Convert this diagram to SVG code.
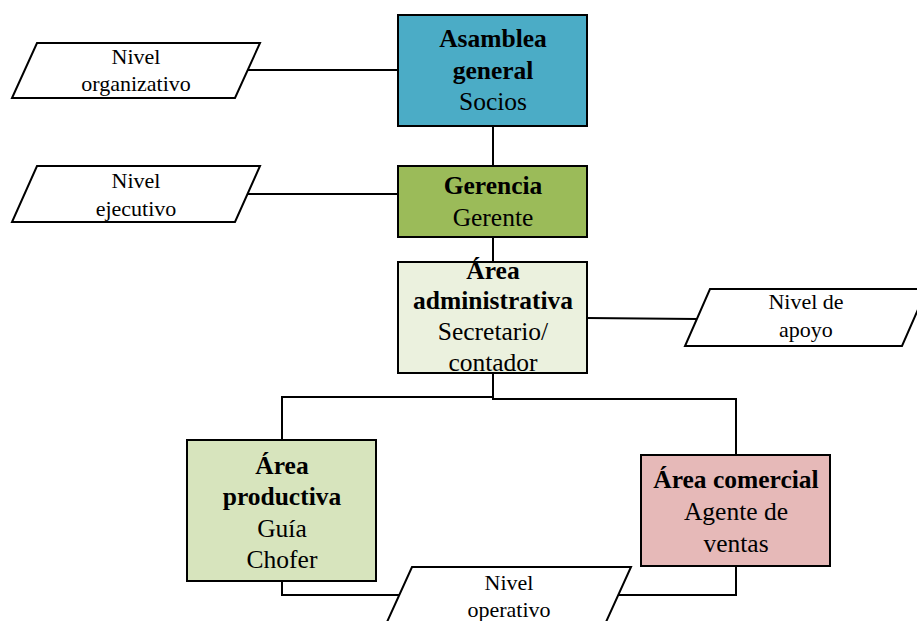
<svg xmlns="http://www.w3.org/2000/svg" width="917" height="621" viewBox="0 0 917 621">
<style>
.box{stroke:#000;stroke-width:2}
.para{fill:#fff;stroke:#000;stroke-width:2}
.ln{fill:none;stroke:#000;stroke-width:2}
text{font-family:'Liberation Serif','DejaVu Serif',serif;text-anchor:middle;fill:#000}
.t{font-size:25.5px}
.b{font-weight:bold}
.p{font-size:22px}
</style>
<rect width="917" height="621" fill="#fff"/>
<g id="connectors">
<line class="ln" x1="248" y1="70" x2="398" y2="70"/>
<line class="ln" x1="248" y1="194" x2="398" y2="194"/>
<line class="ln" x1="587" y1="318" x2="697" y2="319"/>
<line class="ln" x1="493" y1="126" x2="493" y2="166"/>
<line class="ln" x1="493" y1="237" x2="493" y2="262"/>
<polyline class="ln" points="493,373 493,397 282,397 282,440"/>
<polyline class="ln" points="493,397 493,399 736,399 736,455"/>
<polyline class="ln" points="282,581 282,595 399,595"/>
<polyline class="ln" points="736,566 736,595 618,595"/>
</g>
<g id="asamblea">
<rect class="box" x="398" y="15" width="189" height="111" fill="#4BACC6"/>
<text class="t b" x="493" y="47">Asamblea</text>
<text class="t b" x="493" y="79">general</text>
<text class="t" x="493" y="110">Socios</text>
</g>
<g id="gerencia">
<rect class="box" x="398" y="166" width="189" height="71" fill="#9BBB59"/>
<text class="t b" x="493" y="194">Gerencia</text>
<text class="t" x="493" y="226">Gerente</text>
</g>
<g id="administrativa">
<rect class="box" x="398" y="262" width="189" height="111" fill="#EBF1DE"/>
<text class="t b" x="493" y="279">Área</text>
<text class="t b" x="493" y="309">administrativa</text>
<text class="t" x="493" y="340">Secretario/</text>
<text class="t" x="493" y="371">contador</text>
</g>
<g id="productiva">
<rect class="box" x="187" y="440" width="189" height="141" fill="#D7E4BD"/>
<text class="t b" x="282" y="474">Área</text>
<text class="t b" x="282" y="505">productiva</text>
<text class="t" x="282" y="537">Guía</text>
<text class="t" x="282" y="568">Chofer</text>
</g>
<g id="comercial">
<rect class="box" x="641" y="455" width="189" height="111" fill="#E6B9B8"/>
<text class="t b" x="736" y="488">Área comercial</text>
<text class="t" x="736" y="520">Agente de</text>
<text class="t" x="736" y="552">ventas</text>
</g>
<g id="nivel-organizativo">
<polygon class="para" points="37,43 260,43 235,98 12,98"/>
<text class="p" x="136" y="64">Nivel</text>
<text class="p" x="136" y="91">organizativo</text>
</g>
<g id="nivel-ejecutivo">
<polygon class="para" points="37,166 260,166 235,222 12,222"/>
<text class="p" x="136" y="188">Nivel</text>
<text class="p" x="136" y="216">ejecutivo</text>
</g>
<g id="nivel-apoyo">
<polygon class="para" points="710,289 927,289 902,346 685,346"/>
<text class="p" x="806" y="309">Nivel de</text>
<text class="p" x="806" y="337">apoyo</text>
</g>
<g id="nivel-operativo">
<polygon class="para" points="412,567 631,567 606,622 387,622"/>
<text class="p" x="509" y="590">Nivel</text>
<text class="p" x="509" y="617">operativo</text>
</g>
</svg>
